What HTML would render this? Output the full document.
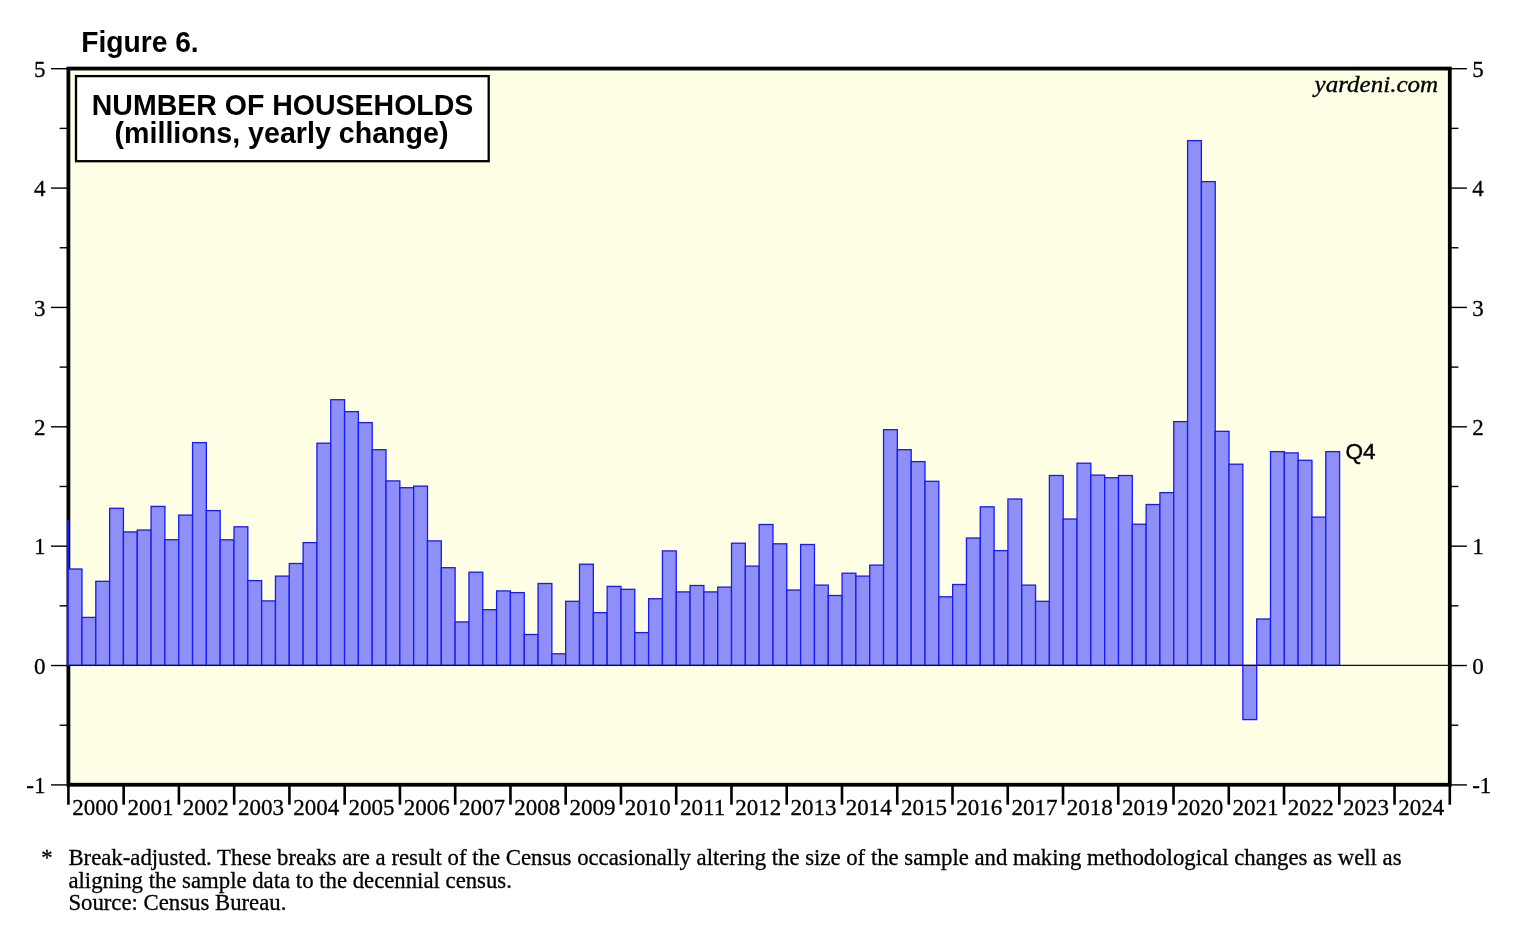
<!DOCTYPE html>
<html><head><meta charset="utf-8"><title>Figure 6</title>
<style>
html,body{margin:0;padding:0;background:#fff;}
body{width:1536px;height:930px;overflow:hidden;}
svg{display:block;will-change:transform;}
text{fill:#000;}
.s{font-family:"Liberation Serif",serif;font-size:23px;stroke:#000;stroke-width:0.3px;}
.h{font-family:"Liberation Sans",sans-serif;font-weight:bold;font-size:27px;}
</style></head><body>
<svg width="1536" height="930" viewBox="0 0 1536 930">
<rect x="0" y="0" width="1536" height="930" fill="#fff"/>
<rect x="68.4" y="68.55" width="1381.40" height="716.20" fill="#FFFFE6" stroke="#000" stroke-width="3.8"/>
<g stroke="#000" stroke-width="1.4">
<line x1="51.00" y1="68.70" x2="68.40" y2="68.70"/><line x1="1449.80" y1="68.70" x2="1466.90" y2="68.70"/>
<line x1="59.60" y1="128.38" x2="68.40" y2="128.38"/><line x1="1449.80" y1="128.38" x2="1458.40" y2="128.38"/>
<line x1="51.00" y1="188.07" x2="68.40" y2="188.07"/><line x1="1449.80" y1="188.07" x2="1466.90" y2="188.07"/>
<line x1="59.60" y1="247.75" x2="68.40" y2="247.75"/><line x1="1449.80" y1="247.75" x2="1458.40" y2="247.75"/>
<line x1="51.00" y1="307.43" x2="68.40" y2="307.43"/><line x1="1449.80" y1="307.43" x2="1466.90" y2="307.43"/>
<line x1="59.60" y1="367.12" x2="68.40" y2="367.12"/><line x1="1449.80" y1="367.12" x2="1458.40" y2="367.12"/>
<line x1="51.00" y1="426.80" x2="68.40" y2="426.80"/><line x1="1449.80" y1="426.80" x2="1466.90" y2="426.80"/>
<line x1="59.60" y1="486.48" x2="68.40" y2="486.48"/><line x1="1449.80" y1="486.48" x2="1458.40" y2="486.48"/>
<line x1="51.00" y1="546.17" x2="68.40" y2="546.17"/><line x1="1449.80" y1="546.17" x2="1466.90" y2="546.17"/>
<line x1="59.60" y1="605.85" x2="68.40" y2="605.85"/><line x1="1449.80" y1="605.85" x2="1458.40" y2="605.85"/>
<line x1="51.00" y1="665.53" x2="68.40" y2="665.53"/><line x1="1449.80" y1="665.53" x2="1466.90" y2="665.53"/>
<line x1="59.60" y1="725.22" x2="68.40" y2="725.22"/><line x1="1449.80" y1="725.22" x2="1458.40" y2="725.22"/>
<line x1="51.00" y1="784.90" x2="68.40" y2="784.90"/><line x1="1449.80" y1="784.90" x2="1466.90" y2="784.90"/>
</g>
<g stroke="#000" stroke-width="2.6">
<line x1="68.40" y1="784.75" x2="68.40" y2="804.7"/><line x1="123.66" y1="784.75" x2="123.66" y2="804.7"/><line x1="178.91" y1="784.75" x2="178.91" y2="804.7"/><line x1="234.17" y1="784.75" x2="234.17" y2="804.7"/><line x1="289.42" y1="784.75" x2="289.42" y2="804.7"/><line x1="344.68" y1="784.75" x2="344.68" y2="804.7"/><line x1="399.94" y1="784.75" x2="399.94" y2="804.7"/><line x1="455.19" y1="784.75" x2="455.19" y2="804.7"/><line x1="510.45" y1="784.75" x2="510.45" y2="804.7"/><line x1="565.70" y1="784.75" x2="565.70" y2="804.7"/><line x1="620.96" y1="784.75" x2="620.96" y2="804.7"/><line x1="676.22" y1="784.75" x2="676.22" y2="804.7"/><line x1="731.47" y1="784.75" x2="731.47" y2="804.7"/><line x1="786.73" y1="784.75" x2="786.73" y2="804.7"/><line x1="841.98" y1="784.75" x2="841.98" y2="804.7"/><line x1="897.24" y1="784.75" x2="897.24" y2="804.7"/><line x1="952.50" y1="784.75" x2="952.50" y2="804.7"/><line x1="1007.75" y1="784.75" x2="1007.75" y2="804.7"/><line x1="1063.01" y1="784.75" x2="1063.01" y2="804.7"/><line x1="1118.26" y1="784.75" x2="1118.26" y2="804.7"/><line x1="1173.52" y1="784.75" x2="1173.52" y2="804.7"/><line x1="1228.78" y1="784.75" x2="1228.78" y2="804.7"/><line x1="1284.03" y1="784.75" x2="1284.03" y2="804.7"/><line x1="1339.29" y1="784.75" x2="1339.29" y2="804.7"/><line x1="1394.54" y1="784.75" x2="1394.54" y2="804.7"/><line x1="1449.80" y1="784.75" x2="1449.80" y2="804.7"/>
</g>
<g fill="#8E90F8" stroke="#161AF6" stroke-width="1.3">
<rect x="66.9" y="519.8" width="2.4" height="145.60" fill="#161AF6" stroke="none"/>
<rect x="68.16" y="569.00" width="13.82" height="96.40"/><rect x="81.98" y="617.40" width="13.82" height="48.00"/><rect x="95.80" y="581.30" width="13.82" height="84.10"/><rect x="109.62" y="508.30" width="13.82" height="157.10"/>
<rect x="123.44" y="531.90" width="13.82" height="133.50"/><rect x="137.26" y="530.00" width="13.82" height="135.40"/><rect x="151.08" y="506.40" width="13.82" height="159.00"/><rect x="164.90" y="539.70" width="13.82" height="125.70"/>
<rect x="178.72" y="515.10" width="13.82" height="150.30"/><rect x="192.54" y="442.60" width="13.82" height="222.80"/><rect x="206.36" y="510.60" width="13.82" height="154.80"/><rect x="220.18" y="539.80" width="13.82" height="125.60"/>
<rect x="234.00" y="526.80" width="13.82" height="138.60"/><rect x="247.82" y="580.60" width="13.82" height="84.80"/><rect x="261.64" y="600.90" width="13.82" height="64.50"/><rect x="275.46" y="576.10" width="13.82" height="89.30"/>
<rect x="289.28" y="563.50" width="13.82" height="101.90"/><rect x="303.10" y="542.60" width="13.82" height="122.80"/><rect x="316.92" y="443.20" width="13.82" height="222.20"/><rect x="330.74" y="399.70" width="13.82" height="265.70"/>
<rect x="344.56" y="411.60" width="13.82" height="253.80"/><rect x="358.38" y="422.60" width="13.82" height="242.80"/><rect x="372.20" y="449.70" width="13.82" height="215.70"/><rect x="386.02" y="480.90" width="13.82" height="184.50"/>
<rect x="399.84" y="487.70" width="13.82" height="177.70"/><rect x="413.66" y="486.10" width="13.82" height="179.30"/><rect x="427.48" y="540.90" width="13.82" height="124.50"/><rect x="441.30" y="567.70" width="13.82" height="97.70"/>
<rect x="455.12" y="621.90" width="13.82" height="43.50"/><rect x="468.94" y="572.20" width="13.82" height="93.20"/><rect x="482.76" y="609.70" width="13.82" height="55.70"/><rect x="496.58" y="590.90" width="13.82" height="74.50"/>
<rect x="510.40" y="592.60" width="13.82" height="72.80"/><rect x="524.22" y="634.50" width="13.82" height="30.90"/><rect x="538.04" y="583.50" width="13.82" height="81.90"/><rect x="551.86" y="653.80" width="13.82" height="11.60"/>
<rect x="565.68" y="601.30" width="13.82" height="64.10"/><rect x="579.50" y="564.20" width="13.82" height="101.20"/><rect x="593.32" y="612.60" width="13.82" height="52.80"/><rect x="607.14" y="586.40" width="13.82" height="79.00"/>
<rect x="620.96" y="589.30" width="13.82" height="76.10"/><rect x="634.78" y="632.60" width="13.82" height="32.80"/><rect x="648.60" y="598.70" width="13.82" height="66.70"/><rect x="662.42" y="550.90" width="13.82" height="114.50"/>
<rect x="676.24" y="591.90" width="13.82" height="73.50"/><rect x="690.06" y="585.50" width="13.82" height="79.90"/><rect x="703.88" y="591.90" width="13.82" height="73.50"/><rect x="717.70" y="587.10" width="13.82" height="78.30"/>
<rect x="731.52" y="543.20" width="13.82" height="122.20"/><rect x="745.34" y="566.10" width="13.82" height="99.30"/><rect x="759.16" y="524.50" width="13.82" height="140.90"/><rect x="772.98" y="543.80" width="13.82" height="121.60"/>
<rect x="786.80" y="590.00" width="13.82" height="75.40"/><rect x="800.62" y="544.50" width="13.82" height="120.90"/><rect x="814.44" y="585.10" width="13.82" height="80.30"/><rect x="828.26" y="595.50" width="13.82" height="69.90"/>
<rect x="842.08" y="573.20" width="13.82" height="92.20"/><rect x="855.90" y="576.10" width="13.82" height="89.30"/><rect x="869.72" y="565.10" width="13.82" height="100.30"/><rect x="883.54" y="429.70" width="13.82" height="235.70"/>
<rect x="897.36" y="449.70" width="13.82" height="215.70"/><rect x="911.18" y="461.60" width="13.82" height="203.80"/><rect x="925.00" y="481.30" width="13.82" height="184.10"/><rect x="938.82" y="596.80" width="13.82" height="68.60"/>
<rect x="952.64" y="584.50" width="13.82" height="80.90"/><rect x="966.46" y="538.00" width="13.82" height="127.40"/><rect x="980.28" y="506.80" width="13.82" height="158.60"/><rect x="994.10" y="550.60" width="13.82" height="114.80"/>
<rect x="1007.92" y="499.00" width="13.82" height="166.40"/><rect x="1021.74" y="585.10" width="13.82" height="80.30"/><rect x="1035.56" y="601.30" width="13.82" height="64.10"/><rect x="1049.38" y="475.50" width="13.82" height="189.90"/>
<rect x="1063.20" y="519.00" width="13.82" height="146.40"/><rect x="1077.02" y="463.20" width="13.82" height="202.20"/><rect x="1090.84" y="475.10" width="13.82" height="190.30"/><rect x="1104.66" y="477.70" width="13.82" height="187.70"/>
<rect x="1118.48" y="475.50" width="13.82" height="189.90"/><rect x="1132.30" y="524.20" width="13.82" height="141.20"/><rect x="1146.12" y="504.50" width="13.82" height="160.90"/><rect x="1159.94" y="492.60" width="13.82" height="172.80"/>
<rect x="1173.76" y="421.60" width="13.82" height="243.80"/><rect x="1187.58" y="140.60" width="13.82" height="524.80"/><rect x="1201.40" y="181.60" width="13.82" height="483.80"/><rect x="1215.22" y="431.30" width="13.82" height="234.10"/>
<rect x="1229.04" y="464.20" width="13.82" height="201.20"/><rect x="1242.86" y="665.40" width="13.82" height="54.20"/><rect x="1256.68" y="619.00" width="13.82" height="46.40"/><rect x="1270.50" y="451.60" width="13.82" height="213.80"/>
<rect x="1284.32" y="452.90" width="13.82" height="212.50"/><rect x="1298.14" y="460.30" width="13.82" height="205.10"/><rect x="1311.96" y="517.10" width="13.82" height="148.30"/><rect x="1325.78" y="451.60" width="13.82" height="213.80"/>
</g>
<line x1="68.40" y1="665.40" x2="1449.80" y2="665.40" stroke="#111" stroke-width="1.25"/>
<text class="s" x="45.4" y="76.95" text-anchor="end">5</text><text class="s" x="1472.2" y="76.95">5</text>
<text class="s" x="45.4" y="196.32" text-anchor="end">4</text><text class="s" x="1472.2" y="196.32">4</text>
<text class="s" x="45.4" y="315.68" text-anchor="end">3</text><text class="s" x="1472.2" y="315.68">3</text>
<text class="s" x="45.4" y="435.05" text-anchor="end">2</text><text class="s" x="1472.2" y="435.05">2</text>
<text class="s" x="45.4" y="554.42" text-anchor="end">1</text><text class="s" x="1472.2" y="554.42">1</text>
<text class="s" x="45.4" y="673.78" text-anchor="end">0</text><text class="s" x="1472.2" y="673.78">0</text>
<text class="s" x="45.4" y="793.15" text-anchor="end">-1</text><text class="s" x="1472.2" y="793.15">-1</text>
<text class="s" x="72.20" y="814.5">2000</text><text class="s" x="127.46" y="814.5">2001</text><text class="s" x="182.71" y="814.5">2002</text><text class="s" x="237.97" y="814.5">2003</text><text class="s" x="293.22" y="814.5">2004</text><text class="s" x="348.48" y="814.5">2005</text><text class="s" x="403.74" y="814.5">2006</text><text class="s" x="458.99" y="814.5">2007</text><text class="s" x="514.25" y="814.5">2008</text><text class="s" x="569.50" y="814.5">2009</text><text class="s" x="624.76" y="814.5">2010</text><text class="s" x="680.02" y="814.5">2011</text><text class="s" x="735.27" y="814.5">2012</text><text class="s" x="790.53" y="814.5">2013</text><text class="s" x="845.78" y="814.5">2014</text><text class="s" x="901.04" y="814.5">2015</text><text class="s" x="956.30" y="814.5">2016</text><text class="s" x="1011.55" y="814.5">2017</text><text class="s" x="1066.81" y="814.5">2018</text><text class="s" x="1122.06" y="814.5">2019</text><text class="s" x="1177.32" y="814.5">2020</text><text class="s" x="1232.58" y="814.5">2021</text><text class="s" x="1287.83" y="814.5">2022</text><text class="s" x="1343.09" y="814.5">2023</text><text class="s" x="1398.34" y="814.5">2024</text>
<text class="h" x="81.2" y="52" style="font-size:29.5px" textLength="117.5" lengthAdjust="spacingAndGlyphs">Figure 6.</text>
<rect x="76" y="76.1" width="412.7" height="85.1" fill="#fff" stroke="#000" stroke-width="2.3"/>
<text class="h" x="91.8" y="115" style="font-size:29.5px" textLength="381.5" lengthAdjust="spacingAndGlyphs">NUMBER OF HOUSEHOLDS</text>
<text class="h" x="114.5" y="143.4" style="font-size:29.5px" textLength="334" lengthAdjust="spacingAndGlyphs">(millions, yearly change)</text>
<text x="1314.5" y="91.6" textLength="123.7" lengthAdjust="spacingAndGlyphs" style="font-family:'Liberation Serif',serif;font-style:italic;font-size:24px;stroke:#000;stroke-width:0.35px">yardeni.com</text>
<text x="1345.4" y="459.3" style="font-family:'Liberation Sans',sans-serif;font-size:22.6px;stroke:#000;stroke-width:0.4px">Q4</text>
<text class="s" x="41.2" y="864.8" style="font-size:22.75px">*</text>
<text class="s" x="68.4" y="864.8" style="font-size:22.75px">Break-adjusted. These breaks are a result of the Census occasionally altering the size of the sample and making methodological changes as well as</text>
<text class="s" x="68.4" y="887.6" style="font-size:22.75px">aligning the sample data to the decennial census.</text>
<text class="s" x="68.4" y="910.4" style="font-size:22.75px">Source: Census Bureau.</text>
</svg>
</body></html>
